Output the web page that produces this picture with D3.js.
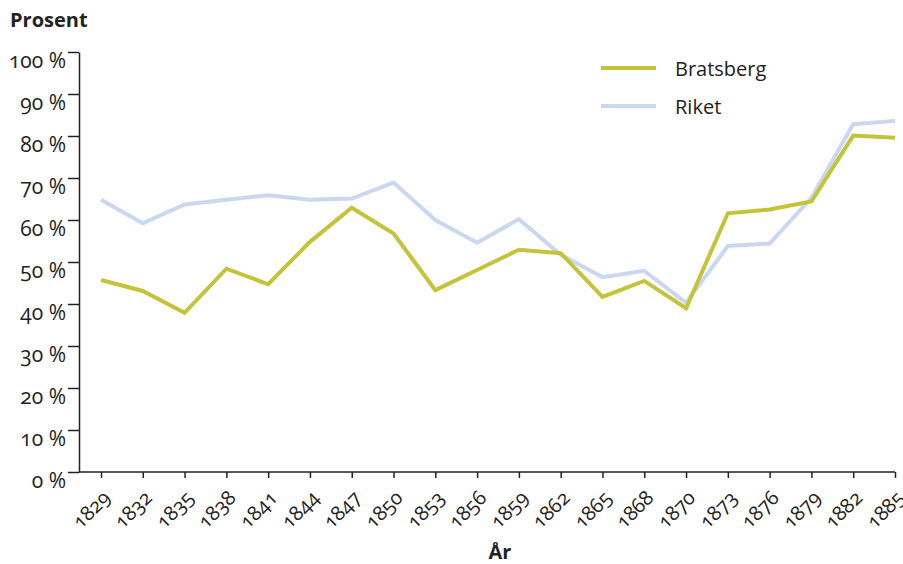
<html>
<meta charset="utf-8">
<script src="https://cdn.jsdelivr.net/npm/d3@7"></script>
<style>
body { margin: 0; background: #fff; }
text { font-family: "Open Sans", sans-serif; fill: #222; }
.num { font-variant-numeric: oldstyle-nums; }
</style>
<body>
<svg id="chart" width="903" height="564"></svg>
<script>
// data
var years = ["1829","1832","1835","1838","1841","1844","1847","1850","1853","1856",
             "1859","1862","1865","1868","1870","1873","1876","1879","1882","1885"];
var bratsberg = [45.7,43.1,37.9,48.4,44.7,54.8,62.9,56.8,43.3,48.1,
                 52.9,52.1,41.7,45.5,39.0,61.6,62.5,64.4,80.1,79.6];
var riket = [64.8,59.2,63.7,64.8,65.9,64.8,65.1,68.9,60.0,54.6,
             60.2,51.7,46.4,47.9,40.3,53.8,54.4,65.3,82.8,83.6];
var yTicks = [0,10,20,30,40,50,60,70,80,90,100];
var seriesNames = ["Bratsberg","Riket"];
var seriesColors = ["#c4c43a","#c9d8f0"];

function draw(){
	var svg = d3.select("#chart");
	var axisLeftX = 79, axisBottomY = 472;

	var x = d3.scalePoint().domain(years).range([101, 895]);
	var y = d3.scaleLinear().domain([0, 100]).range([472, 52]);

	// y axis
	var gy = svg.append("g").attr("transform", "translate(" + axisLeftX + ",0)")
		.call(d3.axisLeft(y).tickValues(yTicks).tickSize(11).tickSizeOuter(0).tickFormat(function(d){ return d + " %"; }));
	gy.select(".domain").attr("stroke", "#222").attr("stroke-width", 1.5);
	gy.selectAll(".tick line").attr("stroke", "#222").attr("stroke-width", 1.5);
	gy.selectAll(".tick text").attr("class", "num").attr("x", -13).attr("y", 15).attr("dy", null)
		.style("font-size", "21px").style("font-family", "'Open Sans', sans-serif").attr("fill", "#222");

	// x axis
	var gx = svg.append("g").attr("transform", "translate(0," + axisBottomY + ")")
		.call(d3.axisBottom(x).tickSize(6).tickSizeOuter(0));
	gx.select(".domain").remove();
	gx.append("line").attr("x1", axisLeftX).attr("x2", 895).attr("stroke", "#222").attr("stroke-width", 1.5);
	gx.selectAll(".tick line").attr("stroke", "#222").attr("stroke-width", 1.5);
	gx.selectAll(".tick text").attr("class", "num").attr("y", null).attr("dy", null)
		.attr("text-anchor", "end").attr("transform", "translate(10,27) rotate(-45)")
		.style("font-size", "20px").style("font-family", "'Open Sans', sans-serif").attr("fill", "#222");

	// lines
	var line = d3.line().x(function(d, i){ return x(years[i]); }).y(function(d){ return y(d); });
	[riket, bratsberg].forEach(function(s, k){
		var idx = 1 - k;
		svg.append("path").datum(s).attr("d", line)
			.attr("fill", "none").attr("stroke", seriesColors[idx]).attr("stroke-width", 4)
			.attr("stroke-linejoin", "miter");
	});

	// legend
	var lg = svg.append("g");
	seriesNames.forEach(function(n, i){
		var ly = 68 + i * 38;
		lg.append("line").attr("x1", 601).attr("x2", 656).attr("y1", ly).attr("y2", ly)
			.attr("stroke", seriesColors[i]).attr("stroke-width", 4);
		lg.append("text").attr("x", 675).attr("y", ly + 8).style("font-size", "20px").text(n);
	});

	// titles
	svg.append("text").attr("x", 10).attr("y", 27).style("font-size", "20px").style("font-weight", "bold").text("Prosent");
	svg.append("text").attr("x", 500).attr("y", 559).attr("text-anchor", "middle").style("font-size", "20px").style("font-weight", "bold").text("År");
}
draw();
</script>
</body>
</html>
